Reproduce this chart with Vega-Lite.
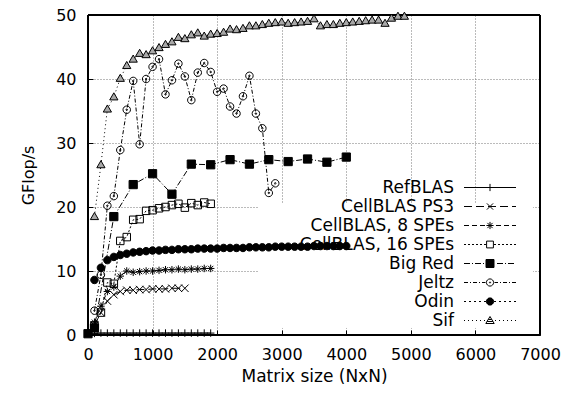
{
  "$schema": "https://vega.github.io/schema/vega-lite/v6.json",
  "width": 452,
  "height": 320,
  "autosize": "none",
  "padding": {"left": 88, "top": 15, "right": 26, "bottom": 59},
  "config": {
    "view": {"stroke": "black", "strokeWidth": 1},
    "font": "DejaVu Sans",
    "axis": {"labelFont": "DejaVu Sans", "titleFont": "DejaVu Sans", "labelFontSize": 16, "titleFontSize": 16, "titleFontWeight": "normal", "labelColor": "black", "titleColor": "black", "domain": false, "ticks": true, "tickColor": "black", "tickSize": 5, "grid": true, "gridColor": "#777", "gridDash": [1, 2], "gridWidth": 1, "labelFlush": false, "format": "d"}
  },
  "data": {"values": [
    {"s":"RefBLAS","x":100,"y":0.25},{"s":"RefBLAS","x":200,"y":0.3},{"s":"RefBLAS","x":300,"y":0.3},{"s":"RefBLAS","x":400,"y":0.3},{"s":"RefBLAS","x":500,"y":0.3},{"s":"RefBLAS","x":600,"y":0.3},{"s":"RefBLAS","x":700,"y":0.3},{"s":"RefBLAS","x":800,"y":0.3},{"s":"RefBLAS","x":900,"y":0.3},{"s":"RefBLAS","x":1000,"y":0.3},{"s":"RefBLAS","x":1100,"y":0.3},{"s":"RefBLAS","x":1200,"y":0.3},{"s":"RefBLAS","x":1300,"y":0.3},{"s":"RefBLAS","x":1400,"y":0.3},{"s":"RefBLAS","x":1500,"y":0.3},{"s":"RefBLAS","x":1600,"y":0.3},{"s":"RefBLAS","x":1700,"y":0.3},{"s":"RefBLAS","x":1800,"y":0.3},{"s":"RefBLAS","x":1900,"y":0.3},
    {"s":"CellBLAS PS3","x":100,"y":1.5},{"s":"CellBLAS PS3","x":200,"y":3.5},{"s":"CellBLAS PS3","x":300,"y":5.3},{"s":"CellBLAS PS3","x":400,"y":6.3},{"s":"CellBLAS PS3","x":500,"y":6.8},{"s":"CellBLAS PS3","x":600,"y":7.0},{"s":"CellBLAS PS3","x":700,"y":7.0},{"s":"CellBLAS PS3","x":800,"y":7.1},{"s":"CellBLAS PS3","x":900,"y":7.1},{"s":"CellBLAS PS3","x":1000,"y":7.2},{"s":"CellBLAS PS3","x":1100,"y":7.2},{"s":"CellBLAS PS3","x":1200,"y":7.2},{"s":"CellBLAS PS3","x":1300,"y":7.3},{"s":"CellBLAS PS3","x":1400,"y":7.3},{"s":"CellBLAS PS3","x":1500,"y":7.3},
    {"s":"CellBLAS, 8 SPEs","x":100,"y":2.0},{"s":"CellBLAS, 8 SPEs","x":200,"y":4.5},{"s":"CellBLAS, 8 SPEs","x":300,"y":6.8},{"s":"CellBLAS, 8 SPEs","x":400,"y":7.5},{"s":"CellBLAS, 8 SPEs","x":500,"y":9.2},{"s":"CellBLAS, 8 SPEs","x":600,"y":10.0},{"s":"CellBLAS, 8 SPEs","x":700,"y":9.8},{"s":"CellBLAS, 8 SPEs","x":800,"y":9.9},{"s":"CellBLAS, 8 SPEs","x":900,"y":10.0},{"s":"CellBLAS, 8 SPEs","x":1000,"y":10.0},{"s":"CellBLAS, 8 SPEs","x":1100,"y":10.1},{"s":"CellBLAS, 8 SPEs","x":1200,"y":10.2},{"s":"CellBLAS, 8 SPEs","x":1300,"y":10.2},{"s":"CellBLAS, 8 SPEs","x":1400,"y":10.3},{"s":"CellBLAS, 8 SPEs","x":1500,"y":10.2},{"s":"CellBLAS, 8 SPEs","x":1600,"y":10.3},{"s":"CellBLAS, 8 SPEs","x":1700,"y":10.3},{"s":"CellBLAS, 8 SPEs","x":1800,"y":10.4},{"s":"CellBLAS, 8 SPEs","x":1900,"y":10.4},
    {"s":"CellBLAS, 16 SPEs","x":100,"y":1.5},{"s":"CellBLAS, 16 SPEs","x":200,"y":3.5},{"s":"CellBLAS, 16 SPEs","x":300,"y":8.2},{"s":"CellBLAS, 16 SPEs","x":400,"y":8.0},{"s":"CellBLAS, 16 SPEs","x":500,"y":14.7},{"s":"CellBLAS, 16 SPEs","x":600,"y":15.3},{"s":"CellBLAS, 16 SPEs","x":700,"y":18.0},{"s":"CellBLAS, 16 SPEs","x":800,"y":18.1},{"s":"CellBLAS, 16 SPEs","x":900,"y":19.4},{"s":"CellBLAS, 16 SPEs","x":1000,"y":19.5},{"s":"CellBLAS, 16 SPEs","x":1100,"y":19.8},{"s":"CellBLAS, 16 SPEs","x":1200,"y":20.0},{"s":"CellBLAS, 16 SPEs","x":1300,"y":20.3},{"s":"CellBLAS, 16 SPEs","x":1400,"y":20.5},{"s":"CellBLAS, 16 SPEs","x":1500,"y":19.9},{"s":"CellBLAS, 16 SPEs","x":1600,"y":20.6},{"s":"CellBLAS, 16 SPEs","x":1700,"y":20.3},{"s":"CellBLAS, 16 SPEs","x":1800,"y":20.7},{"s":"CellBLAS, 16 SPEs","x":1900,"y":20.5},
    {"s":"Big Red","x":0,"y":0.2},{"s":"Big Red","x":100,"y":1.1},{"s":"Big Red","x":400,"y":18.5},{"s":"Big Red","x":700,"y":23.5},{"s":"Big Red","x":1000,"y":25.2},{"s":"Big Red","x":1300,"y":22.0},{"s":"Big Red","x":1600,"y":26.7},{"s":"Big Red","x":1900,"y":26.6},{"s":"Big Red","x":2200,"y":27.4},{"s":"Big Red","x":2500,"y":26.7},{"s":"Big Red","x":2800,"y":27.4},{"s":"Big Red","x":3100,"y":27.1},{"s":"Big Red","x":3400,"y":27.5},{"s":"Big Red","x":3700,"y":27.0},{"s":"Big Red","x":4000,"y":27.8},
    {"s":"Jeltz","x":100,"y":3.8},{"s":"Jeltz","x":200,"y":9.4},{"s":"Jeltz","x":300,"y":20.2},{"s":"Jeltz","x":400,"y":21.7},{"s":"Jeltz","x":500,"y":28.9},{"s":"Jeltz","x":600,"y":35.2},{"s":"Jeltz","x":700,"y":39.7},{"s":"Jeltz","x":800,"y":29.8},{"s":"Jeltz","x":900,"y":40.0},{"s":"Jeltz","x":1000,"y":41.9},{"s":"Jeltz","x":1100,"y":43.1},{"s":"Jeltz","x":1200,"y":37.6},{"s":"Jeltz","x":1300,"y":39.8},{"s":"Jeltz","x":1400,"y":42.4},{"s":"Jeltz","x":1500,"y":40.4},{"s":"Jeltz","x":1600,"y":36.7},{"s":"Jeltz","x":1700,"y":41.0},{"s":"Jeltz","x":1800,"y":42.5},{"s":"Jeltz","x":1900,"y":41.1},{"s":"Jeltz","x":2000,"y":38.0},{"s":"Jeltz","x":2100,"y":38.5},{"s":"Jeltz","x":2200,"y":35.7},{"s":"Jeltz","x":2300,"y":34.6},{"s":"Jeltz","x":2400,"y":37.3},{"s":"Jeltz","x":2500,"y":40.5},{"s":"Jeltz","x":2600,"y":34.6},{"s":"Jeltz","x":2700,"y":32.3},{"s":"Jeltz","x":2800,"y":22.2},{"s":"Jeltz","x":2900,"y":23.7},
    {"s":"Odin","x":100,"y":8.6},{"s":"Odin","x":200,"y":10.5},{"s":"Odin","x":300,"y":11.7},{"s":"Odin","x":400,"y":12.2},{"s":"Odin","x":500,"y":12.5},{"s":"Odin","x":600,"y":12.7},{"s":"Odin","x":700,"y":12.9},{"s":"Odin","x":800,"y":13.0},{"s":"Odin","x":900,"y":13.1},{"s":"Odin","x":1000,"y":13.2},{"s":"Odin","x":1100,"y":13.2},{"s":"Odin","x":1200,"y":13.3},{"s":"Odin","x":1300,"y":13.3},{"s":"Odin","x":1400,"y":13.4},{"s":"Odin","x":1500,"y":13.4},{"s":"Odin","x":1600,"y":13.4},{"s":"Odin","x":1700,"y":13.5},{"s":"Odin","x":1800,"y":13.5},{"s":"Odin","x":1900,"y":13.5},{"s":"Odin","x":2000,"y":13.5},{"s":"Odin","x":2100,"y":13.6},{"s":"Odin","x":2200,"y":13.6},{"s":"Odin","x":2300,"y":13.6},{"s":"Odin","x":2400,"y":13.6},{"s":"Odin","x":2500,"y":13.7},{"s":"Odin","x":2600,"y":13.7},{"s":"Odin","x":2700,"y":13.7},{"s":"Odin","x":2800,"y":13.7},{"s":"Odin","x":2900,"y":13.8},{"s":"Odin","x":3000,"y":13.8},{"s":"Odin","x":3100,"y":13.8},{"s":"Odin","x":3200,"y":13.8},{"s":"Odin","x":3300,"y":13.8},{"s":"Odin","x":3400,"y":13.8},{"s":"Odin","x":3500,"y":13.9},{"s":"Odin","x":3600,"y":13.9},{"s":"Odin","x":3700,"y":13.9},{"s":"Odin","x":3800,"y":13.9},{"s":"Odin","x":3900,"y":13.9},{"s":"Odin","x":4000,"y":13.9},
    {"s":"Sif","x":100,"y":18.5},{"s":"Sif","x":200,"y":26.6},{"s":"Sif","x":300,"y":35.3},{"s":"Sif","x":400,"y":37.2},{"s":"Sif","x":500,"y":40.1},{"s":"Sif","x":600,"y":42.1},{"s":"Sif","x":700,"y":43.1},{"s":"Sif","x":800,"y":44.0},{"s":"Sif","x":900,"y":43.8},{"s":"Sif","x":1000,"y":44.4},{"s":"Sif","x":1100,"y":44.9},{"s":"Sif","x":1200,"y":45.4},{"s":"Sif","x":1300,"y":45.8},{"s":"Sif","x":1400,"y":46.5},{"s":"Sif","x":1500,"y":46.3},{"s":"Sif","x":1600,"y":46.9},{"s":"Sif","x":1700,"y":47.2},{"s":"Sif","x":1800,"y":46.7},{"s":"Sif","x":1900,"y":47.0},{"s":"Sif","x":2000,"y":47.1},{"s":"Sif","x":2100,"y":47.3},{"s":"Sif","x":2200,"y":47.8},{"s":"Sif","x":2300,"y":47.7},{"s":"Sif","x":2400,"y":47.9},{"s":"Sif","x":2500,"y":48.3},{"s":"Sif","x":2600,"y":48.3},{"s":"Sif","x":2700,"y":48.5},{"s":"Sif","x":2800,"y":48.7},{"s":"Sif","x":2900,"y":48.8},{"s":"Sif","x":3000,"y":48.9},{"s":"Sif","x":3100,"y":48.7},{"s":"Sif","x":3200,"y":48.8},{"s":"Sif","x":3300,"y":48.9},{"s":"Sif","x":3400,"y":49.0},{"s":"Sif","x":3500,"y":49.4},{"s":"Sif","x":3600,"y":48.3},{"s":"Sif","x":3700,"y":48.5},{"s":"Sif","x":3800,"y":48.5},{"s":"Sif","x":3900,"y":48.7},{"s":"Sif","x":4000,"y":48.8},{"s":"Sif","x":4100,"y":48.9},{"s":"Sif","x":4200,"y":49.0},{"s":"Sif","x":4300,"y":49.1},{"s":"Sif","x":4400,"y":49.2},{"s":"Sif","x":4500,"y":49.2},{"s":"Sif","x":4600,"y":48.7},{"s":"Sif","x":4700,"y":49.5},{"s":"Sif","x":4800,"y":49.8},{"s":"Sif","x":4900,"y":49.8}
  ]},
  "layer": [
    {
      "mark": {"type": "rect", "filled": false, "fill": null, "stroke": "black", "strokeWidth": 1},
      "encoding": {
        "x": {"datum": 0, "type": "quantitative", "scale": {"domain": [0, 7000], "nice": false},
          "axis": {"values": [0,1000,2000,3000,4000,5000,6000,7000], "title": "Matrix size (NxN)", "grid": true, "offset": -5, "labelPadding": 11, "titlePadding": 6, "titleFontSize": 17}},
        "x2": {"datum": 7000},
        "y": {"datum": 0, "type": "quantitative", "scale": {"domain": [0, 50], "nice": false},
          "axis": {"values": [0,5,10,15,20,25,30,35,40,45,50], "title": "GFlop/s", "grid": true, "offset": -5, "labelPadding": 12, "titlePadding": 19}},
        "y2": {"datum": 50}
      }
    },
    {
      "mark": {"type": "rect", "fill": "white", "stroke": null},
      "encoding": {
        "x": {"datum": 2641, "type": "quantitative"},
        "x2": {"datum": 6883},
        "y": {"datum": 1.2, "type": "quantitative"},
        "y2": {"datum": 20.6}
      }
    },
    {
      "mark": {"type": "line", "stroke": "black", "strokeWidth": 1},
      "encoding": {
        "x": {"field": "x", "type": "quantitative"},
        "y": {"field": "y", "type": "quantitative"},
        "detail": {"field": "s"},
        "strokeDash": {"field": "s", "type": "nominal", "legend": null,
          "scale": {"domain": ["RefBLAS","CellBLAS PS3","CellBLAS, 8 SPEs","CellBLAS, 16 SPEs","Big Red","Jeltz","Odin","Sif"],
                    "range": [[1,0],[8,4],[5,3],[2,2],[6,2,1,2],[4,2,1,2],[2,3],[1,3]]}}
      }
    },
    {
      "mark": {"type": "point", "filled": true, "stroke": "black", "strokeWidth": 1, "size": 56, "opacity": 1},
      "encoding": {
        "x": {"field": "x", "type": "quantitative"},
        "y": {"field": "y", "type": "quantitative"},
        "shape": {"field": "s", "type": "nominal", "legend": null,
          "scale": {"domain": ["RefBLAS","CellBLAS PS3","CellBLAS, 8 SPEs","CellBLAS, 16 SPEs","Big Red","Jeltz","Odin","Sif"],
                    "range": ["M-1,0H1M0,-1V1","M-1,-1L1,1M-1,1L1,-1","M-1,0H1M0,-1V1M-0.7,-0.7L0.7,0.7M-0.7,0.7L0.7,-0.7","M-1,-1H1V1H-1Z","M-1.1,-1.1H1.1V1.1H-1.1Z","M-1,0A1,1 0 1,1 1,0A1,1 0 1,1 -1,0ZM-0.2,0A0.2,0.2 0 1,1 0.2,0A0.2,0.2 0 1,1 -0.2,0Z","M-1,0A1,1 0 1,1 1,0A1,1 0 1,1 -1,0Z","M0,-1.1L1.1,0.8H-1.1Z"]}},
        "fill": {"field": "s", "type": "nominal", "legend": null,
          "scale": {"domain": ["RefBLAS","CellBLAS PS3","CellBLAS, 8 SPEs","CellBLAS, 16 SPEs","Big Red","Jeltz","Odin","Sif"],
                    "range": ["transparent","transparent","transparent","transparent","black","transparent","black","#a8a8a8"]}}
      }
    },
    {
      "transform": [{"filter": "datum.x < 0"}],
      "mark": {"type": "point", "filled": false, "stroke": "black", "strokeWidth": 1, "opacity": 1},
      "encoding": {
        "shape": {"field": "s", "type": "nominal",
          "legend": {"title": null, "orient": "none", "legendX": 391.5, "legendY": 162, "labelAlign": "right", "labelOffset": -46.5, "symbolSize": 400, "symbolStrokeWidth": 1, "symbolStrokeColor": "black", "symbolFillColor": "transparent", "labelFont": "DejaVu Sans", "labelFontSize": 17, "labelColor": "black", "rowPadding": 0, "labelLimit": 300, "padding": 0},
          "scale": {"domain": ["RefBLAS","CellBLAS PS3","CellBLAS, 8 SPEs","CellBLAS, 16 SPEs","Big Red","Jeltz","Odin","Sif"],
                    "range": [
                      "M-2.6,0H2.6M0,-0.36V0.36",
                      "M-2.6,0H-1.8M-1.4,0H-0.6M-0.2,0H0.6M1,0H1.8M2.2,0H2.6M-0.31,-0.31L0.31,0.31M-0.31,0.31L0.31,-0.31",
                      "M-2.6,0H-2.1M-1.8,0H-1.3M-1,0H-0.5M-0.2,0H0.3M0.6,0H1.1M1.4,0H1.9M2.2,0H2.6M-0.36,0H0.36M0,-0.36V0.36M-0.26,-0.26L0.26,0.26M-0.26,0.26L0.26,-0.26",
                      "M-2.6,0H-2.4M-2.2,0H-2M-1.8,0H-1.6M-1.4,0H-1.2M-1,0H-0.8M-0.6,0H-0.4M0.4,0H0.6M0.8,0H1M1.2,0H1.4M1.6,0H1.8M2,0H2.2M2.4,0H2.6M-0.34,-0.34H0.34V0.34H-0.34Z",
                      "M-2.6,0H-2M-1.8,0H-1.7M-1.5,0H-0.9M-0.7,0H-0.6M0.7,0H1.3M1.5,0H1.6M1.8,0H2.4M-0.4,-0.4H0.4V0.4H-0.4ZM-0.4,-0.3H0.4M-0.4,-0.2H0.4M-0.4,-0.1H0.4M-0.4,0H0.4M-0.4,0.1H0.4M-0.4,0.2H0.4M-0.4,0.3H0.4",
                      "M-2.6,0H-2.2M-2,0H-1.9M-1.7,0H-1.3M-1.1,0H-1M-0.8,0H-0.45M0.45,0H0.8M1,0H1.1M1.3,0H1.7M1.9,0H2M2.2,0H2.6M-0.36,0A0.36,0.36 0 1,1 0.36,0A0.36,0.36 0 1,1 -0.36,0ZM-0.06,0A0.06,0.06 0 1,1 0.06,0A0.06,0.06 0 1,1 -0.06,0Z",
                      "M-2.6,0H-2.4M-2.1,0H-1.9M-1.6,0H-1.4M-1.1,0H-0.9M-0.6,0H-0.4M0.4,0H0.6M0.9,0H1.1M1.4,0H1.6M1.9,0H2.1M2.4,0H2.6M-0.36,0A0.36,0.36 0 1,1 0.36,0A0.36,0.36 0 1,1 -0.36,0ZM-0.2,-0.3H0.2M-0.3,-0.2H0.3M-0.35,-0.1H0.35M-0.36,0H0.36M-0.35,0.1H0.35M-0.3,0.2H0.3M-0.2,0.3H0.2",
                      "M-2.6,0H-2.5M-2.2,0H-2.1M-1.8,0H-1.7M-1.4,0H-1.3M-1,0H-0.9M-0.6,0H-0.5M0.5,0H0.6M0.9,0H1M1.3,0H1.4M1.7,0H1.8M2.1,0H2.2M2.5,0H2.6M0,-0.4L0.42,0.3H-0.42ZM-0.17,-0.1H0.17M-0.29,0.1H0.29"
                    ]}}
      }
    }
  ],
  "resolve": {"scale": {"shape": "independent"}, "legend": {"shape": "independent"}}
}
